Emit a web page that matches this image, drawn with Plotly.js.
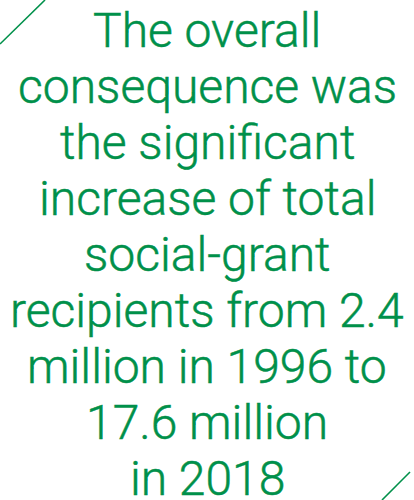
<!DOCTYPE html>
<html>
<head>
<meta charset="utf-8">
<script src="https://cdn.plot.ly/plotly-3.0.1.min.js"></script>
<style>
html,body{margin:0;padding:0;background:#fff;}
#chart{width:414px;height:500px;}
#chart .annotation-text{stroke:#00904a;stroke-width:0.5px;}
</style>
</head>
<body>
<div id="chart"></div>
<script>
// Text lines of the quote graphic
var textLines = [
  "The overall",
  "consequence was",
  "the significant",
  "increase of total",
  "social-grant",
  "recipients from 2.4",
  "million in 1996 to",
  "17.6 million",
  "in 2018"
];
// Row index per line (placed through the y axis scale)
var lineRows = [0, 1, 2, 3, 4, 5, 6, 7, 8];

var green = "#00904a";
var fontFamily = "Roboto, Lato, sans-serif";
var fontSize = 48;

var annotations = textLines.map(function (t, i) {
  return {
    text: t,
    x: 0.5, xref: "paper",
    y: lineRows[i], yref: "y",
    xanchor: "center", yanchor: "middle",
    showarrow: false,
    font: {family: fontFamily, size: fontSize, color: green, weight: 300}
  };
});

var layout = {
  width: 414, height: 500,
  margin: {l: 0, r: 0, t: 0, b: 0},
  paper_bgcolor: "#fff", plot_bgcolor: "#fff",
  showlegend: false,
  xaxis: {visible: false, range: [0, 1], fixedrange: true},
  yaxis: {visible: false, range: [8.384, -0.545], fixedrange: true},
  annotations: annotations,
  shapes: [
    {type: "line", xref: "paper", yref: "paper", x0: 0, y0: 1 - 44/500, x1: 45/414, y1: 1,
     line: {color: green, width: 1.6}},
    {type: "line", xref: "paper", yref: "paper", x0: 382/414, y0: 0, x1: 410/414, y1: 28/500,
     line: {color: green, width: 1.6}}
  ]
};

Plotly.newPlot("chart", [], layout, {staticPlot: true, displayModeBar: false});
</script>
</body>
</html>
